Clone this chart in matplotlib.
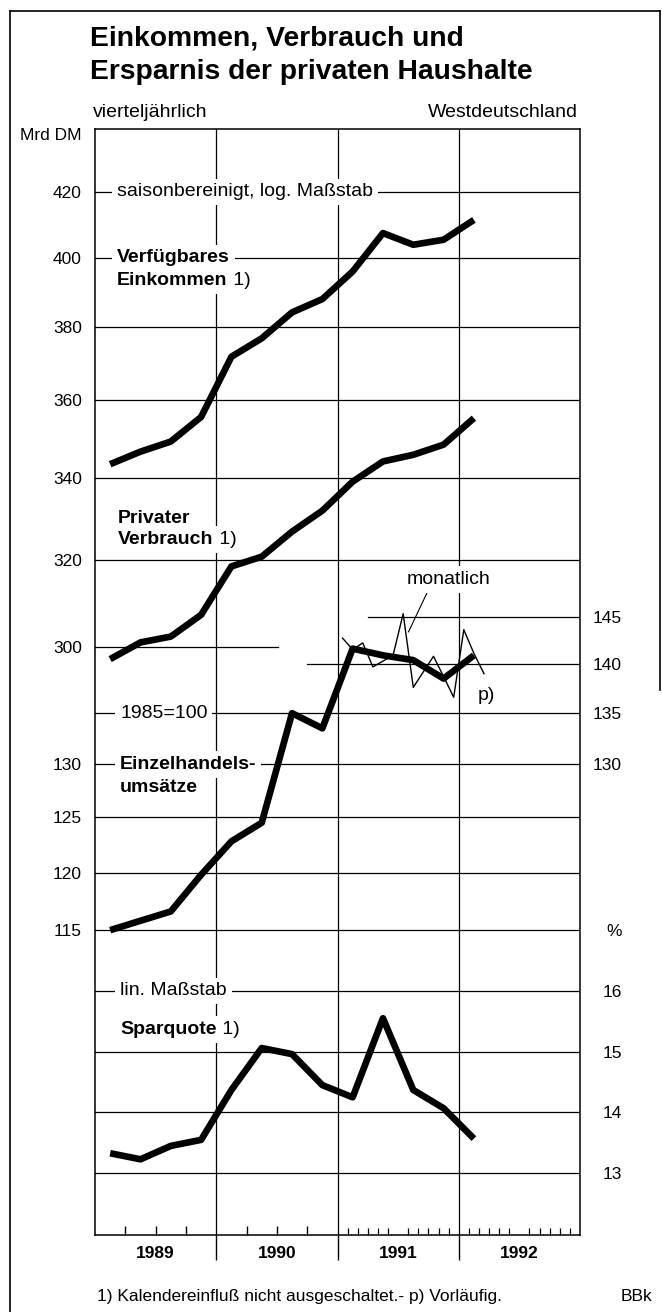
import numpy as np
import pandas as pd
import matplotlib
matplotlib.use("Agg")
import matplotlib.pyplot as plt
from matplotlib.lines import Line2D
from matplotlib.ticker import NullLocator

plt.rcParams['font.family'] = ['Liberation Sans', 'DejaVu Sans']

# --- data ---
quarters = pd.period_range("1989Q1", "1992Q1", freq="Q")
months = pd.period_range("1991-01", "1992-03", freq="M")

einkommen = [343.4, 346.6, 349.2, 355.6, 371.8, 376.9, 384.2, 388.0, 396.0, 407.4, 403.9, 405.4, 411.4]
verbrauch = [297.3, 301.0, 302.3, 307.2, 318.4, 320.7, 326.7, 331.8, 339.0, 344.1, 345.8, 348.4, 355.3]
einzelhandel = [115.0, 115.8, 116.6, 119.8, 122.8, 124.5, 135.0, 133.5, 141.6, 140.9, 140.4, 138.5, 140.9]
einzelhandel_mon = [142.7, 141.5, 142.2, 139.7, 140.3, 140.9, 145.3, 137.6, 139.2, 140.8, 138.7, 136.6,
                    143.6, 141.1, 139.0]
sparquote = [13.33, 13.23, 13.45, 13.55, 14.37, 15.06, 14.96, 14.45, 14.25, 15.55, 14.37, 14.07, 13.57]

years = [1989, 1990, 1991, 1992]
dm_ticks = [300, 320, 340, 360, 380, 400, 420]
idx_ticks_left = [115, 120, 125, 130]
idx_ticks_right = [130, 135, 140, 145]
pct_ticks = [13, 14, 15, 16]

xq = quarters.year + (quarters.quarter - 0.5) / 4
xm = months.year + (months.month - 0.5) / 12

# --- styles ---
W, H = 662, 1312
LAB = 14
TICK = 12.5
GRID = dict(color='black', lw=0.9, zorder=1)
THICK = dict(color='black', lw=4.8, solid_capstyle='butt', solid_joinstyle='round', zorder=3)
WHITE = dict(boxstyle='square,pad=0.25', fc='white', ec='none')

fig = plt.figure(figsize=(W / 100, H / 100), dpi=100)
rect = [95 / W, 1 - 1235 / H, 485 / W, 1106 / H]
ax1 = fig.add_axes(rect)                  # Mrd DM, log
ax2 = fig.add_axes(rect, frameon=False)   # Einzelhandel, log
ax3 = fig.add_axes(rect, frameon=False)   # Sparquote, linear
ax4 = fig.add_axes(rect, frameon=False)   # right labels of the index

for ax in (ax1, ax2, ax3, ax4):
    ax.set_xlim(1989, 1993)

ax1.set_yscale('log')
ax1.set_ylim(194.2, 440.0)
ax2.set_yscale('log')
ax2.set_ylim(91.8, 207.9)
ax4.set_yscale('log')
ax4.set_ylim(91.8, 207.9)
ax3.set_ylim(11.985, 30.176)

for sp in ax1.spines.values():
    sp.set_linewidth(1.1)

# left tick labels
ax1.set_yticks(dm_ticks, [str(v) for v in dm_ticks])
ax2.set_yticks(idx_ticks_left, [str(v) for v in idx_ticks_left])
for ax in (ax1, ax2):
    ax.yaxis.set_minor_locator(NullLocator())
    ax.tick_params(axis='y', length=0, pad=9.4, labelsize=TICK)

# right tick labels
ax4.set_yticks([115] + idx_ticks_right, ['%'] + [str(v) for v in idx_ticks_right])
ax3.set_yticks(pct_ticks, [str(v) for v in pct_ticks])
for ax in (ax3, ax4):
    ax.yaxis.set_minor_locator(NullLocator())
    ax.yaxis.tick_right()
    ax.tick_params(axis='y', length=0, pad=30.2, labelsize=TICK)
    for lab in ax.get_yticklabels():
        lab.set_horizontalalignment('right')
    ax.xaxis.set_visible(False)

# x axis: year separators below, quarter / month ticks inside, year labels
ax1.set_xticks([1990, 1991, 1992], ['', '', ''])
ax1.set_xticks(np.array([0.25, 0.5, 0.75, 1.25, 1.5, 1.75]) + 1989, minor=True)
ax1.tick_params(axis='x', which='major', direction='out', length=18, width=1.0)
ax1.tick_params(axis='x', which='minor', direction='in', length=6.5, width=1.0)
ax1.tick_params(axis='y', which='both', right=False)

ax2.set_xticks([y + 0.5 for y in years], [str(y) for y in years])
mon_ticks = [1991 + k / 12 for k in range(1, 24) if k != 12]
ax2.set_xticks(mon_ticks, minor=True)
ax2.tick_params(axis='x', which='major', length=0, pad=8, labelsize=12.5)
ax2.tick_params(axis='x', which='minor', direction='in', length=5, width=0.9)
for lab in ax2.get_xticklabels():
    lab.set_fontweight('bold')

# grid lines
for v in dm_ticks[1:]:
    ax1.axhline(v, **GRID)
ax1.axhline(300, xmax=0.377, **GRID)
for y in [1990, 1991, 1992]:
    ax1.axvline(y, **GRID)
for v in [115, 120, 125, 130, 135]:
    ax2.axhline(v, **GRID)
ax2.axhline(140, xmin=0.4365, **GRID)
ax2.axhline(145, xmin=0.563, **GRID)
for v in pct_ticks:
    ax3.axhline(v, **GRID)

# series
ax1.plot(xq, einkommen, **THICK)
ax1.plot(xq, verbrauch, **THICK)
ax2.plot(xm, einzelhandel_mon, color='black', lw=1.0, zorder=2)
ax2.plot(xq, einzelhandel, **THICK)
ax3.plot(xq, sparquote, **THICK)


def label(ax, x, y, s, bold=False, dy=0):
    return ax.annotate(s, xy=(x, y), xytext=(0, dy), textcoords='offset points',
                       ha='left', va='center', fontsize=LAB,
                       fontweight='bold' if bold else 'normal', bbox=WHITE, zorder=4)


def note(ax, after, s=' 1)'):
    # footnote mark in normal weight right after a bold label
    return ax.annotate(s, xy=(1, 0), xycoords=after, xytext=(0, 0),
                       textcoords='offset points', ha='left', va='bottom',
                       fontsize=LAB, bbox=WHITE, zorder=3.9)


label(ax1, 1989.182, 420, 'saisonbereinigt, log. Maßstab')
label(ax1, 1989.182, 400, 'Verfügbares', bold=True)
t = label(ax1, 1989.182, 400, 'Einkommen', bold=True, dy=-16.5)
note(ax1, t)
label(ax1, 1989.19, 330, 'Privater', bold=True)
t = label(ax1, 1989.19, 330, 'Verbrauch', bold=True, dy=-15.5)
note(ax1, t)

label(ax2, 1989.207, 135, '1985=100')
label(ax2, 1989.207, 130, 'Einzelhandels-', bold=True)
label(ax2, 1989.207, 130, 'umsätze', bold=True, dy=-17)
ax2.annotate('monatlich', xy=(1991.585, 143.35), xytext=(1991.57, 149.0),
             ha='left', va='center', fontsize=LAB, bbox=WHITE, zorder=4,
             arrowprops=dict(arrowstyle='-', color='black', lw=0.8,
                             shrinkA=0, shrinkB=0, relpos=(0.27, 0)))
label(ax2, 1992.157, 136.8, 'p)')

label(ax3, 1989.207, 16, 'lin. Maßstab')
t = label(ax3, 1989.207, 15.37, 'Sparquote', bold=True)
note(ax3, t)

# titles and notes
fig.text(90 / W, 1 - 46 / H, 'Einkommen, Verbrauch und', fontsize=20.3,
         fontweight='bold', ha='left', va='baseline')
fig.text(90 / W, 1 - 79 / H, 'Ersparnis der privaten Haushalte', fontsize=20.3,
         fontweight='bold', ha='left', va='baseline')
fig.text(93 / W, 1 - 117 / H, 'vierteljährlich', fontsize=LAB, ha='left', va='baseline')
fig.text(578 / W, 1 - 117 / H, 'Westdeutschland', fontsize=LAB, ha='right', va='baseline')
fig.text(82 / W, 1 - 135 / H, 'Mrd DM', fontsize=12.5, ha='right', va='center')
fig.text(97 / W, 1 - 1301 / H, '1) Kalendereinfluß nicht ausgeschaltet.- p) Vorläufig.',
         fontsize=12.5, ha='left', va='baseline')
fig.text(621 / W, 1 - 1301 / H, 'BBk', fontsize=12.5, ha='left', va='baseline')

# page border
fig.add_artist(Line2D([10 / W, 10 / W], [0, 1 - 11 / H], color='black', lw=1.2))
fig.add_artist(Line2D([10 / W, 660 / W], [1 - 11 / H, 1 - 11 / H], color='black', lw=1.2))
fig.add_artist(Line2D([660 / W, 660 / W], [1 - 11 / H, 1 - 690 / H], color='black', lw=1.2))

fig.savefig('out.png', dpi=100)
